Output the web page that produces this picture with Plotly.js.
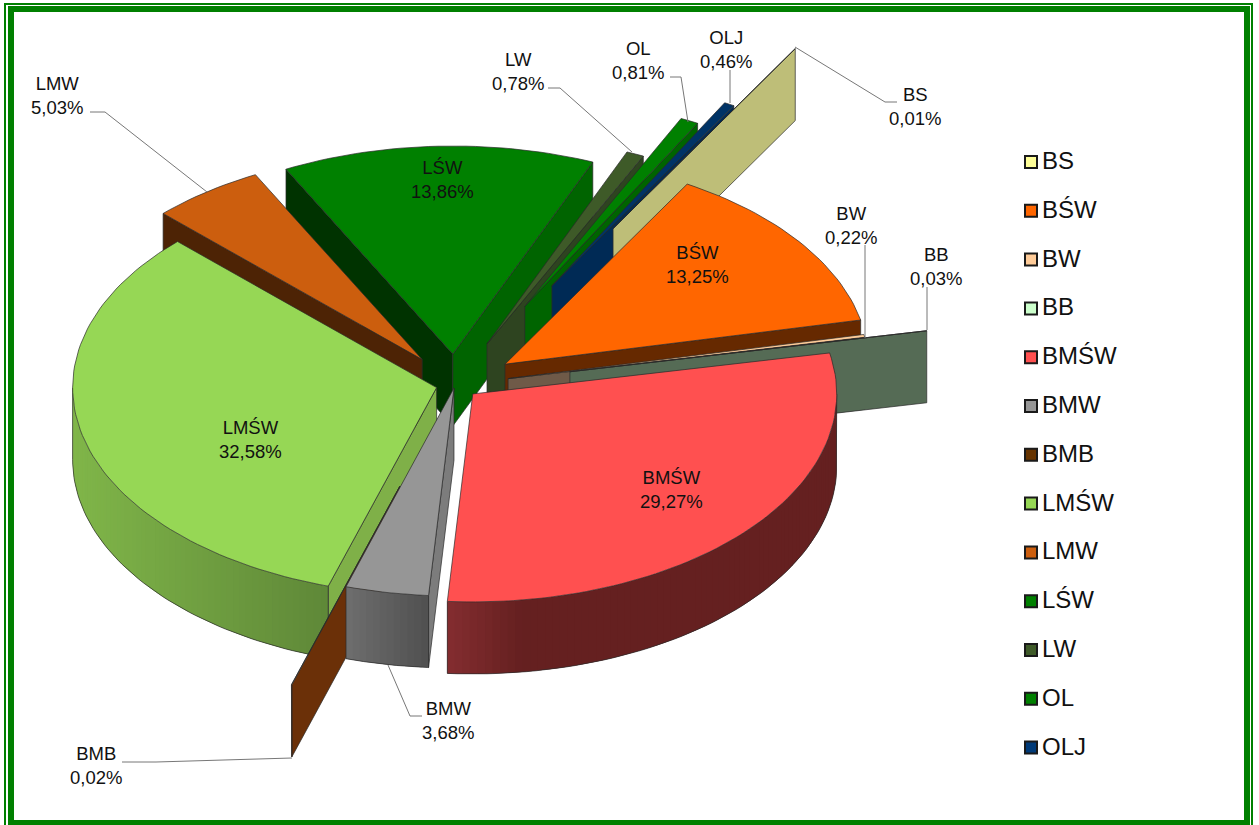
<!DOCTYPE html>
<html>
<head>
<meta charset="utf-8">
<script src="https://cdn.plot.ly/plotly-3.0.1.min.js"></script>
<style>html,body{margin:0;padding:0;background:#fff;overflow:hidden}</style>
</head>
<body>
<div id="chart" style="width:1259px;height:825px"></div>
<script>
// ---- data ----
const categories = ["BS","BŚW","BW","BB","BMŚW","BMW","BMB","LMŚW","LMW","LŚW","LW","OL","OLJ"];
const shares     = [0.01,13.25,0.22,0.03,29.27,3.68,0.02,32.58,5.03,13.86,0.78,0.81,0.46];
const shareText  = ["0,01%","13,25%","0,22%","0,03%","29,27%","3,68%","0,02%","32,58%","5,03%","13,86%","0,78%","0,81%","0,46%"];
// ---- explode fraction of each slice ----
const pull       = [0.868,0.17,0.149,0.322,0.065,0.015,0.51,0.052,0.152,0.149,0.216,0.424,0.546];
// ---- styles ----
const faceColor  = ["#BEBE78","#FF6600","#FFCC99","#556B55","#FF5050","#969696","#6B3008","#96D755","#CC5E0E","#008000","#3E5A28","#008000","#003366"];
const keyColor   = ["#FFFF99","#FF6600","#FFCC99","#CCFFCC","#FF5050","#969696","#663300","#96D755","#CC5E0E","#008000","#3E5A28","#008000","#003A78"];
const startWall  = ["#BEBE78","#662900","#6F5A48","#556B55","#7A2A2E","#7C7C7C","#6B3008","#7FB048","#4D2305","#003300","#2E4420","#006400","#002A55"];
const endWall    = ["#BEBE78","#662900","#6F5A48","#556B55","#7A2A2E","#7C7C7C","#6B3008","#7FB048","#4D2305","#006400","#2E4420","#006400","#002A55"];
const rimLeft    = ["#BEBE78","#662900","#6F5A48","#556B55","#842D30","#6E6E6E","#6B3008","#80B649","#4D2305","#003300","#2E4420","#006400","#002A55"];
const rimRight   = ["#BEBE78","#662900","#6F5A48","#556B55","#652020","#505050","#6B3008","#5F8838","#4D2305","#003300","#2E4420","#006400","#002A55"];
const rimKnee    = [1,1,1,1,0.19,1,1,1,1,1,1,1,1];
const paintOrder = ["LŚW","LMW","LW","OL","OLJ","BS","BŚW","BW","BB","LMŚW","BMB","BMW","BMŚW"];
// ---- pie geometry ----
const centerX = 455, centerY = 385, radiusX = 364, radiusY = 208, depth = 72, startDeg = -60;
// ---- outside / inside labels ----
const labelX = [915,697,851,936,671,448,96,250,57,442,518,638,726];
const labelY = [106,264,225,266,489,720,765,439,95,179,71,60,49];
const leaderX = [[795,885,897],[],[865,865],[927,927],[],[388,410,422],[292,156,122],[],[207,105,90],[],[632,560,548],[688,681,670],[730,730]];
const leaderY = [[47,102,102],[],[338,245],[330,287],[],[665,716,716],[758,762,762],[],[192,112,112],[],[152,88,88],[122,77,77],[103,70]];
const legendTop = 162, legendStep = 48.8, legendMarkX = 1031, legendTextX = 1042, legendTextDrop = 1;

const total = shares.reduce((a,b)=>a+b,0);
const rad = d => d*Math.PI/180;
let angle = startDeg;
const slices = categories.map((name,i)=>{
  const sweep = shares[i]/total*360, a0 = angle, a1 = angle+sweep, m = (a0+a1)/2;
  angle = a1;
  return {i,name,a0,a1,
    tx:centerX+pull[i]*radiusX*Math.cos(rad(m)),
    ty:centerY+pull[i]*radiusY*Math.sin(rad(m))};
});
const px = (s,d)=>s.tx+radiusX*Math.cos(rad(d));
const py = (s,d)=>s.ty+radiusY*Math.sin(rad(d));
const edge = '#2a2a2a';
const traces = [];
function poly(xs,ys,fill,line,w){
  traces.push({type:'scatter',mode:'lines',x:xs.concat(xs[0]),y:ys.concat(ys[0]),fill:'toself',fillcolor:fill,
    line:{color:line||edge,width:w===undefined?0.7:w},hoverinfo:'skip',showlegend:false});
}
function hex(c){return [1,3,5].map(k=>parseInt(c.substr(k,2),16));}
function mix(a,b,f){const A=hex(a),B=hex(b);return 'rgb('+A.map((v,k)=>Math.round(v+(B[k]-v)*f)).join(',')+')';}

function radialWall(s,d,color){
  poly([s.tx,px(s,d),px(s,d),s.tx],[s.ty,py(s,d),py(s,d)+depth,s.ty+depth],color);
}
function drawSlice(s){
  if(Math.cos(rad(s.a0))<0) radialWall(s,s.a0,startWall[s.i]);
  if(Math.cos(rad(s.a1))>0) radialWall(s,s.a1,endWall[s.i]);
  // curved rim, drawn as overlapping shaded strips, light varying with screen x
  const p = Math.max(s.a0,0), q = Math.min(s.a1,180);
  if(s.a0<180 && q>p){
    const n = Math.max(1,Math.ceil((q-p)/1.2));
    const xMin = Math.min(px(s,p),px(s,q)), xMax = Math.max(px(s,p),px(s,q),q>=0&&p<=0?s.tx+radiusX:-1e9);
    for(let k=0;k<n;k++){
      const d0=p+(q-p)*k/n, d1=Math.min(q,p+(q-p)*(k+2)/n), dm=p+(q-p)*(k+0.5)/n;
      const f=Math.min(1,(px(s,dm)-xMin)/(xMax-xMin)/rimKnee[s.i]);
      const col=mix(rimLeft[s.i],rimRight[s.i],f);
      const xs=[],ys=[];
      for(let j=0;j<=4;j++){const d=d0+(d1-d0)*j/4;xs.push(px(s,d));ys.push(py(s,d));}
      for(let j=4;j>=0;j--){const d=d0+(d1-d0)*j/4;xs.push(px(s,d));ys.push(py(s,d)+depth);}
      poly(xs,ys,col,col,0);
    }
    const bx=[],by=[];
    for(let k=0;k<=60;k++){const d=p+(q-p)*k/60;bx.push(px(s,d));by.push(py(s,d)+depth);}
    traces.push({type:'scatter',mode:'lines',x:[px(s,p)].concat(bx,[px(s,q)]),y:[py(s,p)].concat(by,[py(s,q)]),
      line:{color:edge,width:0.7},hoverinfo:'skip',showlegend:false});
  }
  // top face
  const fx=[s.tx],fy=[s.ty],n=Math.max(2,Math.ceil((s.a1-s.a0)/1.5));
  for(let k=0;k<=n;k++){const d=s.a0+(s.a1-s.a0)*k/n;fx.push(px(s,d));fy.push(py(s,d));}
  poly(fx,fy,faceColor[s.i]);
}
paintOrder.forEach(n=>drawSlice(slices[categories.indexOf(n)]));

// leader lines
categories.forEach((n,i)=>{
  if(leaderX[i].length) traces.push({type:'scatter',mode:'lines',x:leaderX[i],y:leaderY[i],
    line:{color:'#777',width:1},hoverinfo:'skip',showlegend:false});
});
// key
const keyY = categories.map((_,i)=>legendTop+legendStep*i);
traces.push({type:'scatter',mode:'markers',x:categories.map(()=>legendMarkX),y:keyY,
  marker:{symbol:'square',size:12,color:keyColor,line:{color:'#1a1a1a',width:2}},
  hoverinfo:'skip',showlegend:false});
traces.push({type:'scatter',mode:'text',x:categories.map(()=>legendTextX),y:keyY.map(v=>v+legendTextDrop),
  text:categories,textposition:'middle right',
  textfont:{family:'"Liberation Sans",Arial,sans-serif',size:24,color:'#111'},
  hoverinfo:'skip',showlegend:false});

const annotations = categories.map((n,i)=>({
  x:labelX[i],y:labelY[i],xref:'x',yref:'y',showarrow:false,xanchor:'center',yanchor:'middle',
  text:n+'<br>'+shareText[i],
  font:{family:'"Liberation Sans",Arial,sans-serif',size:18.5,color:'#111'}
}));
const frame=(x0,y0,x1,y1,w)=>({type:'rect',xref:'x',yref:'y',x0,y0,x1,y1,line:{color:'#008000',width:w},fillcolor:'rgba(0,0,0,0)',layer:'above'});

Plotly.newPlot('chart',traces,{
  width:1259,height:825,margin:{l:0,r:0,t:0,b:0},showlegend:false,
  paper_bgcolor:'#fff',plot_bgcolor:'#fff',
  xaxis:{visible:false,range:[0,1259],fixedrange:true},
  yaxis:{visible:false,range:[825,0],fixedrange:true},
  annotations,
  shapes:[frame(5,4,1252,840,2),frame(11,9,1247,823,6)]
},{displayModeBar:false,staticPlot:true});
</script>
</body>
</html>
